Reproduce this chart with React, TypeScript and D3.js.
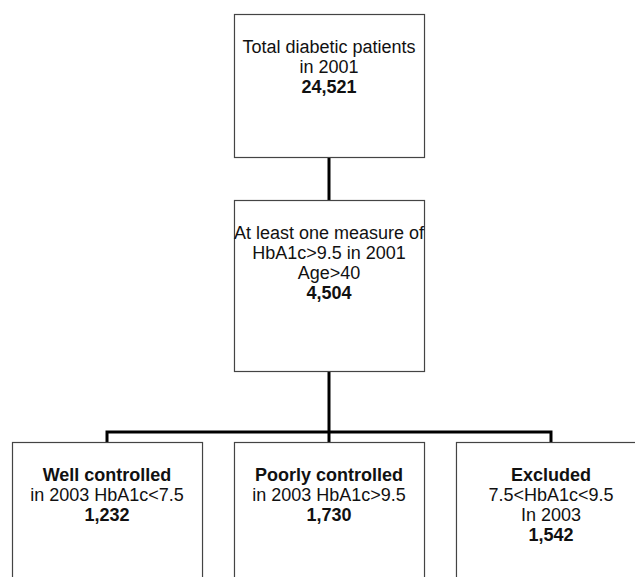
import { useEffect, useRef } from 'react';
import * as d3 from 'd3';

// Flow chart content
const rootLines = ['Total diabetic patients', 'in 2001'];
const rootCount = '24,521';

const midLines = ['At least one measure of', 'HbA1c>9.5 in 2001', 'Age>40'];
const midCount = '4,504';

const outcomeTitles = ['Well controlled', 'Poorly controlled', 'Excluded'];
const outcomeLines = [['in 2003 HbA1c<7.5'], ['in 2003 HbA1c>9.5'], ['7.5<HbA1c<9.5', 'In 2003']];
const outcomeCounts = ['1,232', '1,730', '1,542'];

export default function App() {
    const svgRef = useRef<SVGSVGElement>(null);

    useEffect(() => {
        if (!svgRef.current) return;

        const width = 635;
        const height = 577;
        const fontSize = 18;
        const lineGap = 20;
        const textOffset = 32.5;

        d3.select(svgRef.current).selectAll('*').remove();

        const svg = d3.select(svgRef.current)
            .attr('width', width)
            .attr('height', height);

        // Horizontal layout: three outcome columns
        const x = d3.scaleBand<string>()
            .domain(outcomeTitles)
            .range([12, 646])
            .paddingInner(0.144)
            .paddingOuter(0);
        const bw = x.bandwidth();
        const cx = (d: string) => (x(d) ?? 0) + bw / 2;
        const centerX = cx(outcomeTitles[1]);

        // Vertical layout: level edges
        const levels = ['rootTop', 'rootBottom', 'midTop', 'midBottom', 'branch', 'leafTop', 'leafBottom'];
        const y = d3.scaleOrdinal<string, number>()
            .domain(levels)
            .range([14, 157, 200, 371, 432, 442, 620]);

        const connectors = svg.append('g')
            .attr('stroke', '#000')
            .attr('stroke-width', 3)
            .attr('fill', 'none');

        const link = d3.line<[number, number]>();
        connectors.append('path')
            .attr('d', link([[centerX, y('rootBottom')], [centerX, y('midTop')]]));
        connectors.append('path')
            .attr('d', link([[centerX, y('midBottom')], [centerX, y('branch')]]));
        connectors.append('path')
            .attr('stroke-linecap', 'square')
            .attr('stroke-linejoin', 'miter')
            .attr('d', d3.line<[number, number]>()([
                [cx(outcomeTitles[0]), y('leafTop')],
                [cx(outcomeTitles[0]), y('branch')],
                [cx(outcomeTitles[2]), y('branch')],
                [cx(outcomeTitles[2]), y('leafTop')],
            ]));
        connectors.append('path')
            .attr('d', link([[centerX, y('branch')], [centerX, y('leafTop')]]));

        const drawBox = (x0: number, top: number, bottom: number, lines: { text: string; bold: boolean }[]) => {
            const g = svg.append('g');
            g.append('rect')
                .attr('x', x0 + 0.5)
                .attr('y', top + 0.5)
                .attr('width', bw)
                .attr('height', bottom - top)
                .attr('fill', '#fff')
                .attr('stroke', '#444')
                .attr('stroke-width', 1.2);
            g.selectAll('text')
                .data(lines)
                .enter()
                .append('text')
                .attr('x', x0 + bw / 2)
                .attr('y', (_, i) => top + textOffset + i * lineGap)
                .attr('dy', '0.35em')
                .attr('text-anchor', 'middle')
                .attr('font-family', '"Liberation Sans", Arial, Helvetica, sans-serif')
                .attr('font-size', fontSize)
                .attr('font-weight', d => (d.bold ? 'bold' : 'normal'))
                .attr('fill', '#111')
                .text(d => d.text);
        };

        const topX = x(outcomeTitles[1]) ?? 0;
        drawBox(topX, y('rootTop'), y('rootBottom'), [
            ...rootLines.map(t => ({ text: t, bold: false })),
            { text: rootCount, bold: true },
        ]);
        drawBox(topX, y('midTop'), y('midBottom'), [
            ...midLines.map(t => ({ text: t, bold: false })),
            { text: midCount, bold: true },
        ]);
        outcomeTitles.forEach((title, i) => {
            drawBox(x(title) ?? 0, y('leafTop'), y('leafBottom'), [
                { text: title, bold: true },
                ...outcomeLines[i].map(t => ({ text: t, bold: false })),
                { text: outcomeCounts[i], bold: true },
            ]);
        });
    }, []);

    return (
        <div style={{ position: 'absolute', left: 0, top: 0, width: 635, height: 577, overflow: 'hidden', background: '#fff' }}>
            <svg ref={svgRef} style={{ display: 'block' }} />
        </div>
    );
}
